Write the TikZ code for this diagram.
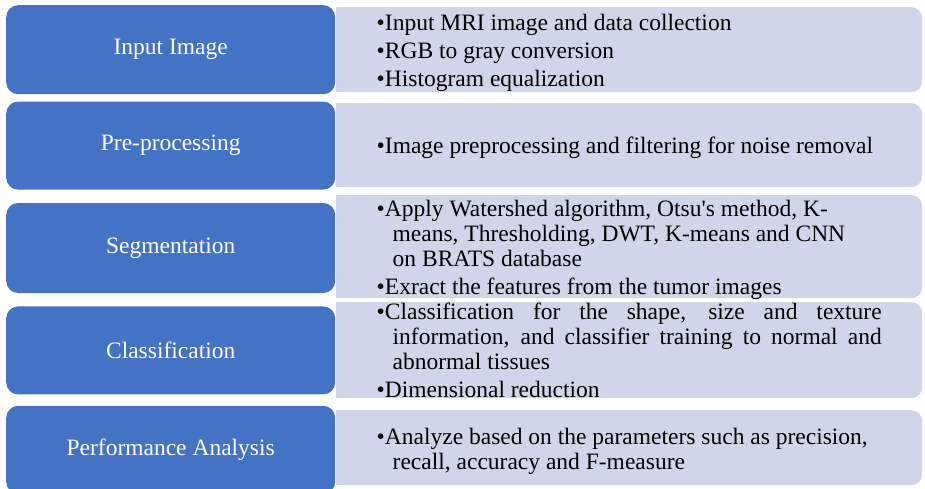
\documentclass[tikz,border=0pt]{standalone}
\usepackage{fontspec}
\setmainfont{Liberation Serif}
\usepackage{xcolor}
\usepackage{tikz}
\usetikzlibrary{positioning}

\definecolor{stageblue}{HTML}{4472C4}
\definecolor{detailfill}{HTML}{D0D5EA}
\newcommand{\bul}[1]{\par\noindent\hangindent=16pt\hangafter=1\textbullet#1\par}

\begin{document}
\begin{tikzpicture}[
    x=1pt, y=-1pt,
    stage/.style={rectangle, fill=stageblue, text=white, rounded corners=12pt, minimum width=329pt, anchor=north west, inner sep=0pt, font=\fontsize{23.5}{25}\selectfont},
    detail/.style={rectangle, fill=detailfill, rounded corners=11pt, minimum width=586pt, anchor=north west, inner sep=0pt},
    bullets/.style={text width=505pt, align=justify, inner sep=0pt, font=\fontsize{23.5}{25}\selectfont, execute at begin node={\setlength{\parskip}{3pt}\hyphenpenalty=10000}},
]
    \useasboundingbox (0,0) rectangle (925,489);

    % stages
    \node[stage, minimum height=89pt] (input) at (6,5) {Input Image};
    \node[stage, minimum height=88pt, below=7pt of input] (prep) {Pre-processing};
    \node[stage, minimum height=90pt, below=13pt of prep] (seg) {Segmentation};
    \node[stage, minimum height=88pt, below=13pt of seg] (cls) {Classification};
    \node[stage, minimum height=88pt, below=11pt of cls] (perf) {Performance Analysis};

    % detail boxes, square on the left
    \node[detail, minimum height=85pt] (inputbox) at (336,7) {};
    \node[detail, minimum height=84pt] (prepbox) at (336,103) {};
    \node[detail, minimum height=103pt] (segbox) at (336,195) {};
    \node[detail, minimum height=96pt] (clsbox) at (336,302) {};
    \node[detail, minimum height=75pt] (perfbox) at (336,410) {};
    \fill[detailfill] (inputbox.north west) rectangle ([xshift=14pt]inputbox.south west);
    \fill[detailfill] (prepbox.north west) rectangle ([xshift=14pt]prepbox.south west);
    \fill[detailfill] (segbox.north west) rectangle ([xshift=14pt]segbox.south west);
    \fill[detailfill] (clsbox.north west) rectangle ([xshift=14pt]clsbox.south west);
    \fill[detailfill] (perfbox.north west) rectangle ([xshift=14pt]perfbox.south west);

    % bullet lists
    \node[bullets, yshift=3pt] (inputlist) at (inputbox.center) {%
        \bul{Input MRI image and data collection}%
        \bul{RGB to gray conversion}%
        \bul{Histogram equalization}};
    \node[bullets, yshift=3pt] (preplist) at (prepbox.center) {%
        \bul{\mbox{Image preprocessing and filtering for noise removal}}};
    \node[bullets, yshift=3pt] (seglist) at (segbox.center) {%
        \bul{Apply Watershed algorithm, Otsu\textquotesingle s method, K-\newline means, Thresholding, DWT, K-means and CNN\newline on BRATS database}%
        \bul{Exract the features from the tumor images}};
    \node[bullets, yshift=6pt] (clslist) at (clsbox.center) {%
        \bul{Classification for the shape, size and texture\linebreak information, and classifier training to normal and\linebreak abnormal tissues}%
        \bul{Dimensional reduction}};
    \node[bullets, yshift=2pt] (perflist) at (perfbox.center) {%
        \bul{Analyze based on the parameters such as precision,\newline recall, accuracy and F-measure}};
\end{tikzpicture}
\end{document}
